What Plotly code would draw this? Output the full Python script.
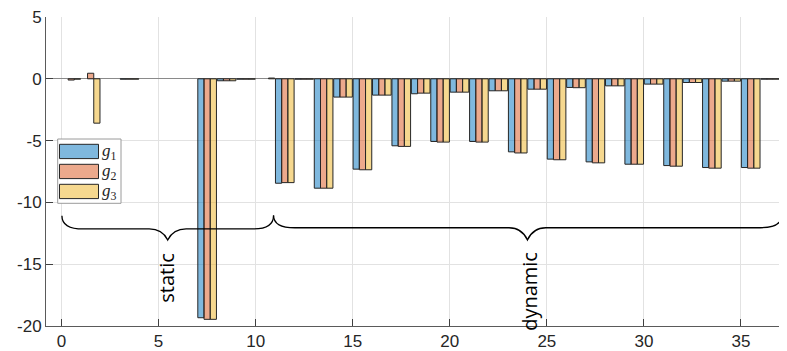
import plotly.graph_objects as go

# ---------------- data ----------------
groups = [i + 0.5 for i in range(37)]
series_names = ["g1", "g2", "g3"]
g1 = [None, None, None, -0.03, None, None, None, -19.33, -0.16, -0.03,
      None, -8.45, -0.03, -8.85, -1.48, -7.31, -1.32, -5.42, -1.21, -5.07,
      -1.08, -5.07, -0.97, -5.91, -0.84, -6.50, -0.70, -6.72, -0.57, -6.91,
      -0.43, -7.02, -0.30, -7.18, -0.19, -7.18, -0.03]
g2 = [-0.10, 0.45, None, -0.03, None, None, None, -19.46, -0.16, -0.03,
      None, -8.40, -0.03, -8.85, -1.48, -7.36, -1.32, -5.47, -1.16, -5.12,
      -1.08, -5.12, -0.97, -6.00, -0.84, -6.55, -0.72, -6.80, -0.57, -6.91,
      -0.43, -7.07, -0.30, -7.23, -0.19, -7.23, -0.03]
g3 = [-0.03, -3.59, None, -0.03, None, None, None, -19.46, -0.16, -0.03,
      0.06, -8.40, -0.03, -8.85, -1.48, -7.36, -1.32, -5.47, -1.16, -5.12,
      -1.08, -5.12, -0.97, -6.00, -0.84, -6.55, -0.72, -6.80, -0.57, -6.91,
      -0.43, -7.07, -0.30, -7.23, -0.19, -7.23, -0.03]
x_ticks = [0, 5, 10, 15, 20, 25, 30, 35]
y_ticks = [-20, -15, -10, -5, 0, 5]
y_tick_text = ["-20", "-15", "-10", "-5", "0", "5"]
legend_labels = ["<i>g</i><sub>1</sub>", "<i>g</i><sub>2</sub>", "<i>g</i><sub>3</sub>"]
brace_labels = ["static", "dynamic"]

# ---------------- style ----------------
fills = ["rgba(0,114,189,0.5)", "rgba(217,83,25,0.5)", "rgba(237,177,32,0.5)"]
edge = "#262626"
OFF = 8  # page body margin
W, H = 787 - OFF, 351 - OFF
ML, MR, MT, MB = 38, 0, 9, 25
XR = [-0.8, 37.37]
YR = [-20, 5]

fig = go.Figure()
for name, vals, col in zip(series_names, [g1, g2, g3], fills):
    fig.add_trace(go.Bar(x=groups, y=vals, name=name,
                         marker=dict(color=col, line=dict(color=edge, width=1)),
                         showlegend=False))

fig.update_layout(
    width=W, height=H,
    margin=dict(l=ML, r=MR, t=MT, b=MB),
    paper_bgcolor="white", plot_bgcolor="white",
    barmode="group", bargap=0.04, bargroupgap=0,
    font=dict(family="Liberation Sans, Arial, sans-serif", size=17, color="#262626"),
    xaxis=dict(range=XR, tickvals=x_ticks, ticks="inside", ticklen=7, tickcolor="#404040",
               showgrid=True, gridcolor="#e2e2e2", gridwidth=1,
               showline=True, linecolor="#5a5a5a", linewidth=1,
               zeroline=False, mirror=False, ticklabeloverflow="allow"),
    yaxis=dict(range=YR, tickvals=y_ticks, ticktext=y_tick_text, ticks="inside", ticklen=7,
               tickcolor="#404040", ticklabeloverflow="allow",
               showgrid=True, gridcolor="#e2e2e2", gridwidth=1,
               showline=True, linecolor="#5a5a5a", linewidth=1,
               zeroline=True, zerolinecolor="#8a8a8a", zerolinewidth=1.2),
)

# ---------------- braces ----------------
def brace(xa, xb, xm, yt, yf, yp, dxe=1.1, dxt=0.95):
    return (f"M {xa},{yt} Q {xa},{yf} {xa+dxe},{yf} "
            f"L {xm-dxt},{yf} Q {xm-0.3*dxt},{yf} {xm},{yp} "
            f"Q {xm+0.3*dxt},{yf} {xm+dxt},{yf} "
            f"L {xb-dxe},{yf} Q {xb},{yf} {xb},{yt}")

fig.add_shape(type="path", xref="x", yref="y", layer="above",
              path=brace(0.02, 10.92, 5.47, -11.07, -12.15, -13.04),
              line=dict(color="black", width=1.3))
fig.add_shape(type="path", xref="x", yref="y", layer="above",
              path=brace(10.92, 37.1, 24.0, -11.03, -12.05, -13.04),
              line=dict(color="black", width=1.3))

fig.add_annotation(x=5.43, y=-16.1, xref="x", yref="y", text=brace_labels[0],
                   textangle=-90, showarrow=False, xanchor="center", yanchor="middle",
                   font=dict(family="Open Sans, sans-serif", size=20, color="black"))
fig.add_annotation(x=24.07, y=-17.17, xref="x", yref="y", text=brace_labels[1],
                   textangle=-90, showarrow=False, xanchor="center", yanchor="middle",
                   font=dict(family="Open Sans, sans-serif", size=20, color="black"))

# ---------------- custom legend (paper coords from window pixel layout) ----------------
pw, ph = W - ML - MR, H - MT - MB
def px(x):
    return (x - OFF - ML) / pw
def py(y):
    return (H - MB - (y - OFF)) / ph

fig.add_shape(type="rect", xref="paper", yref="paper", layer="above",
              x0=px(57.7), x1=px(121), y0=py(203.3), y1=py(139),
              fillcolor="white", line=dict(color="#9a9a9a", width=1))
sw_tops = [144.3, 164.3, 184.3]
for top, col, lab in zip(sw_tops, fills, legend_labels):
    fig.add_shape(type="rect", xref="paper", yref="paper", layer="above",
                  x0=px(59.5), x1=px(98.5), y0=py(top + 14.3), y1=py(top),
                  fillcolor=col, line=dict(color=edge, width=1))
    fig.add_annotation(xref="paper", yref="paper", x=px(99.5), y=py(top + 7.5),
                       text=lab, showarrow=False, xanchor="left", yanchor="middle",
                       font=dict(family="Liberation Serif, serif", size=17, color="#262626"))

fig.write_html("out.html")
